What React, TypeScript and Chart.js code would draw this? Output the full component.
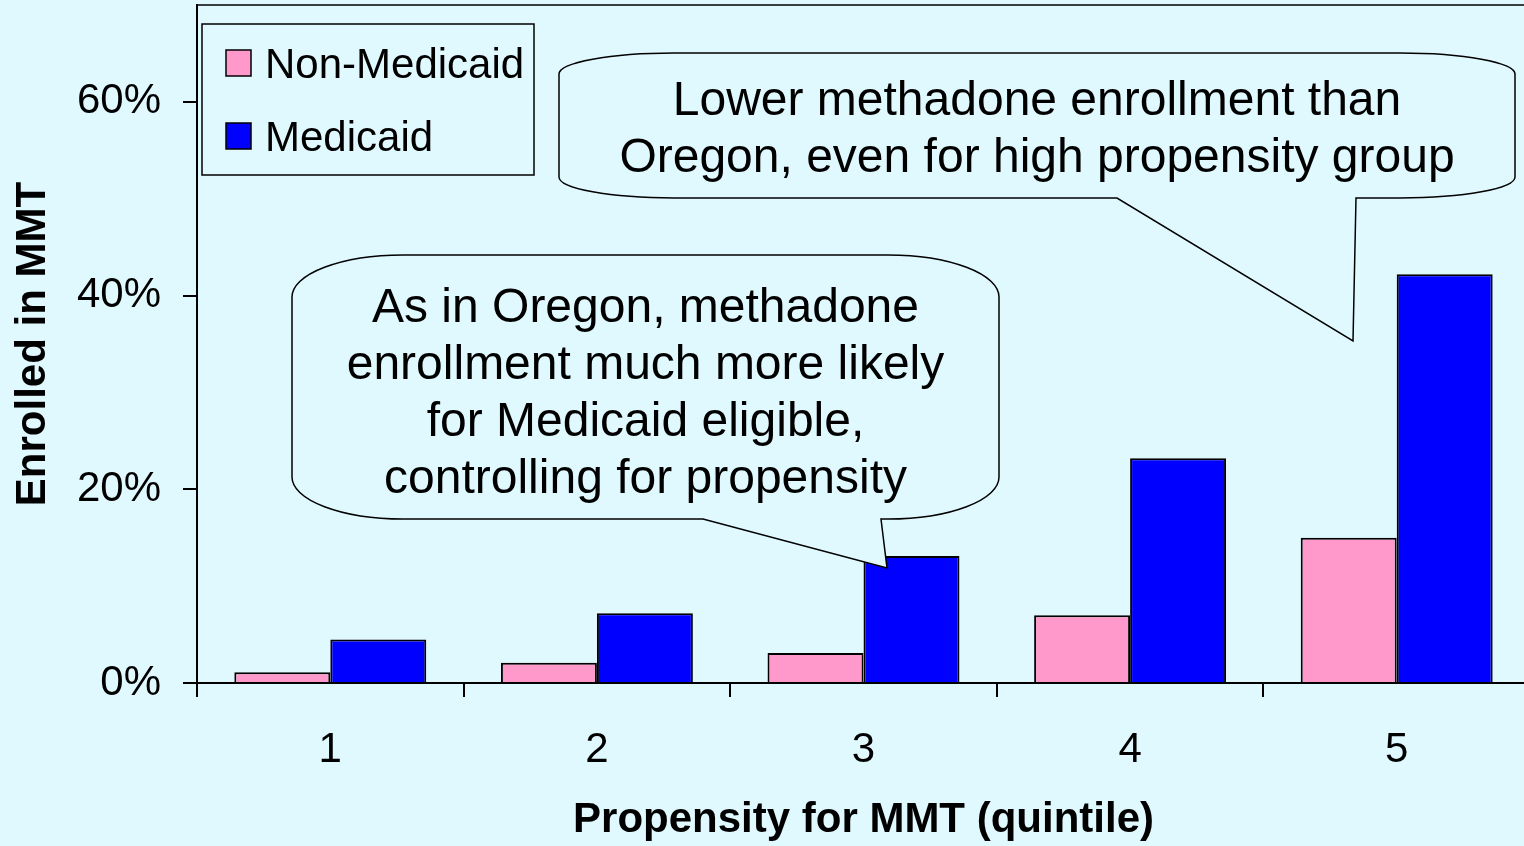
import React, { useEffect, useRef } from "react";
import { Chart, registerables } from "chart.js";

Chart.register(...registerables);

const categories = ["1", "2", "3", "4", "5"];
const seriesLabels = ["Non-Medicaid", "Medicaid"];
const nonMedicaid = [1.1, 2.1, 3.1, 7.0, 15.0];
const medicaid = [4.5, 7.2, 13.1, 23.2, 42.2];
const yTickValues = [0, 20, 40, 60];
const xTitle = "Propensity for MMT (quintile)";
const yTitle = "Enrolled in MMT";
const callout1Lines = [
  "As in Oregon, methadone",
  "enrollment much more likely",
  "for Medicaid eligible,",
  "controlling for propensity",
];
const callout2Lines = [
  "Lower methadone enrollment than",
  "Oregon, even for high propensity group",
];

const BG = "#E0F9FF";
const PINK = "#FF99CC";
const BLUE = "#0000FF";
const FONT = "'Liberation Sans', Arial, Helvetica, sans-serif";

function bubblePath(
  ctx: CanvasRenderingContext2D,
  L: number, T: number, R: number, B: number,
  rx: number, ry: number,
  b1x: number, b2x: number, tipx: number, tipy: number
) {
  ctx.beginPath();
  ctx.moveTo(L + rx, T);
  ctx.lineTo(R - rx, T);
  ctx.ellipse(R - rx, T + ry, rx, ry, 0, -Math.PI / 2, 0);
  ctx.lineTo(R, B - ry);
  ctx.ellipse(R - rx, B - ry, rx, ry, 0, 0, Math.PI / 2);
  ctx.lineTo(b2x, B);
  ctx.lineTo(tipx, tipy);
  ctx.lineTo(b1x, B);
  ctx.lineTo(L + rx, B);
  ctx.ellipse(L + rx, B - ry, rx, ry, 0, Math.PI / 2, Math.PI);
  ctx.lineTo(L, T + ry);
  ctx.ellipse(L + rx, T + ry, rx, ry, 0, Math.PI, Math.PI * 1.5);
  ctx.closePath();
}

const decorPlugin = {
  id: "decor",
  beforeDraw(chart: any) {
    const ctx = chart.ctx as CanvasRenderingContext2D;
    ctx.save();
    ctx.fillStyle = BG;
    ctx.fillRect(0, 0, chart.width, chart.height);
    ctx.restore();
  },
  afterDraw(chart: any) {
    const ctx = chart.ctx as CanvasRenderingContext2D;
    const ca = chart.chartArea;
    ctx.save();
    // top border of plot area
    ctx.strokeStyle = "#000";
    ctx.lineWidth = 1.5;
    ctx.beginPath();
    ctx.moveTo(ca.left, ca.top);
    ctx.lineTo(ca.right, ca.top);
    ctx.stroke();

    // legend
    ctx.lineWidth = 1.5;
    ctx.fillStyle = BG;
    ctx.fillRect(202, 24, 332, 151);
    ctx.strokeRect(202, 24, 332, 151);
    const ds = chart.data.datasets;
    const rows = [
      { y: 50, base: 78 },
      { y: 123, base: 151 },
    ];
    ds.forEach((d: any, i: number) => {
      ctx.fillStyle = d.backgroundColor;
      ctx.fillRect(226, rows[i].y, 25, 26);
      ctx.strokeStyle = "#000";
      ctx.strokeRect(226, rows[i].y, 25, 26);
      ctx.fillStyle = "#000";
      ctx.font = `42px ${FONT}`;
      ctx.textAlign = "left";
      ctx.textBaseline = "alphabetic";
      ctx.fillText(d.label, 265, rows[i].base);
    });

    // callouts
    ctx.lineWidth = 1.5;
    ctx.strokeStyle = "#000";
    bubblePath(ctx, 292, 255, 999, 519, 111, 42, 703, 881, 887, 568);
    ctx.fillStyle = BG;
    ctx.fill();
    ctx.stroke();
    ctx.fillStyle = "#000";
    ctx.font = `48px ${FONT}`;
    ctx.textAlign = "center";
    ctx.textBaseline = "alphabetic";
    callout1Lines.forEach((t, i) => ctx.fillText(t, 645.5, 322 + i * 57));

    bubblePath(ctx, 559, 53, 1515, 198, 115, 21, 1117, 1356, 1353, 341);
    ctx.fillStyle = BG;
    ctx.fill();
    ctx.stroke();
    ctx.fillStyle = "#000";
    callout2Lines.forEach((t, i) => ctx.fillText(t, 1037, 115 + i * 57));
    ctx.restore();
  },
};

export default function App() {
  const ref = useRef<HTMLCanvasElement | null>(null);
  useEffect(() => {
    if (!ref.current) return;
    const chart = new Chart(ref.current, {
      type: "bar",
      data: {
        labels: categories,
        datasets: [
          {
            label: seriesLabels[0],
            data: nonMedicaid,
            backgroundColor: PINK,
            borderColor: "#000",
            borderWidth: 2,
            categoryPercentage: 0.72,
            barPercentage: 1,
          },
          {
            label: seriesLabels[1],
            data: medicaid,
            backgroundColor: BLUE,
            borderColor: "#000",
            borderWidth: 2,
            categoryPercentage: 0.72,
            barPercentage: 1,
          },
        ],
      },
      options: {
        animation: false,
        responsive: false,
        devicePixelRatio: 1,
        layout: { padding: { top: 5, left: 0, right: 0, bottom: 0 } },
        plugins: {
          legend: { display: false },
          tooltip: { enabled: false },
        },
        scales: {
          x: {
            offset: true,
            grid: {
              offset: true,
              drawOnChartArea: false,
              drawTicks: true,
              tickLength: 14,
              color: "#000",
              lineWidth: 2,
            },
            border: { color: "#000", width: 2 },
            ticks: {
              color: "#000",
              font: { family: FONT, size: 42 },
              padding: 28,
              maxRotation: 0,
            },
            title: {
              display: true,
              text: xTitle,
              color: "#000",
              font: { family: FONT, size: 42, weight: "bold" },
              padding: { top: 0, bottom: 0 },
            },
            afterFit: (s: any) => {
              s.height = 163;
              s.paddingLeft = 0;
              s.paddingRight = 0;
            },
          },
          y: {
            min: 0,
            max: 70,
            grid: {
              drawOnChartArea: false,
              drawTicks: true,
              tickLength: 14,
              color: "#000",
              lineWidth: 2,
            },
            border: { color: "#000", width: 2 },
            ticks: {
              stepSize: 20,
              color: "#000",
              font: { family: FONT, size: 42 },
              padding: 22,
              callback: (v: any) => v + "%",
            },
            afterBuildTicks: (s: any) => {
              s.ticks = s.ticks.filter((t: any) => yTickValues.includes(t.value));
            },
            title: {
              display: true,
              text: yTitle,
              color: "#000",
              font: { family: FONT, size: 42, weight: "bold" },
              padding: { top: 8, bottom: 0 },
            },
            afterFit: (s: any) => {
              s.width = 197;
              s.paddingTop = 0;
              s.paddingBottom = 0;
            },
          },
        },
      },
      plugins: [decorPlugin],
    } as any);
    return () => chart.destroy();
  }, []);

  return (
    <div
      style={{
        position: "fixed",
        left: 0,
        top: 0,
        width: "1524px",
        height: "846px",
        overflow: "hidden",
        background: BG,
      }}
    >
      <canvas
        ref={ref}
        width={1530}
        height={846}
        style={{ display: "block", width: "1530px", height: "846px" }}
      />
    </div>
  );
}
